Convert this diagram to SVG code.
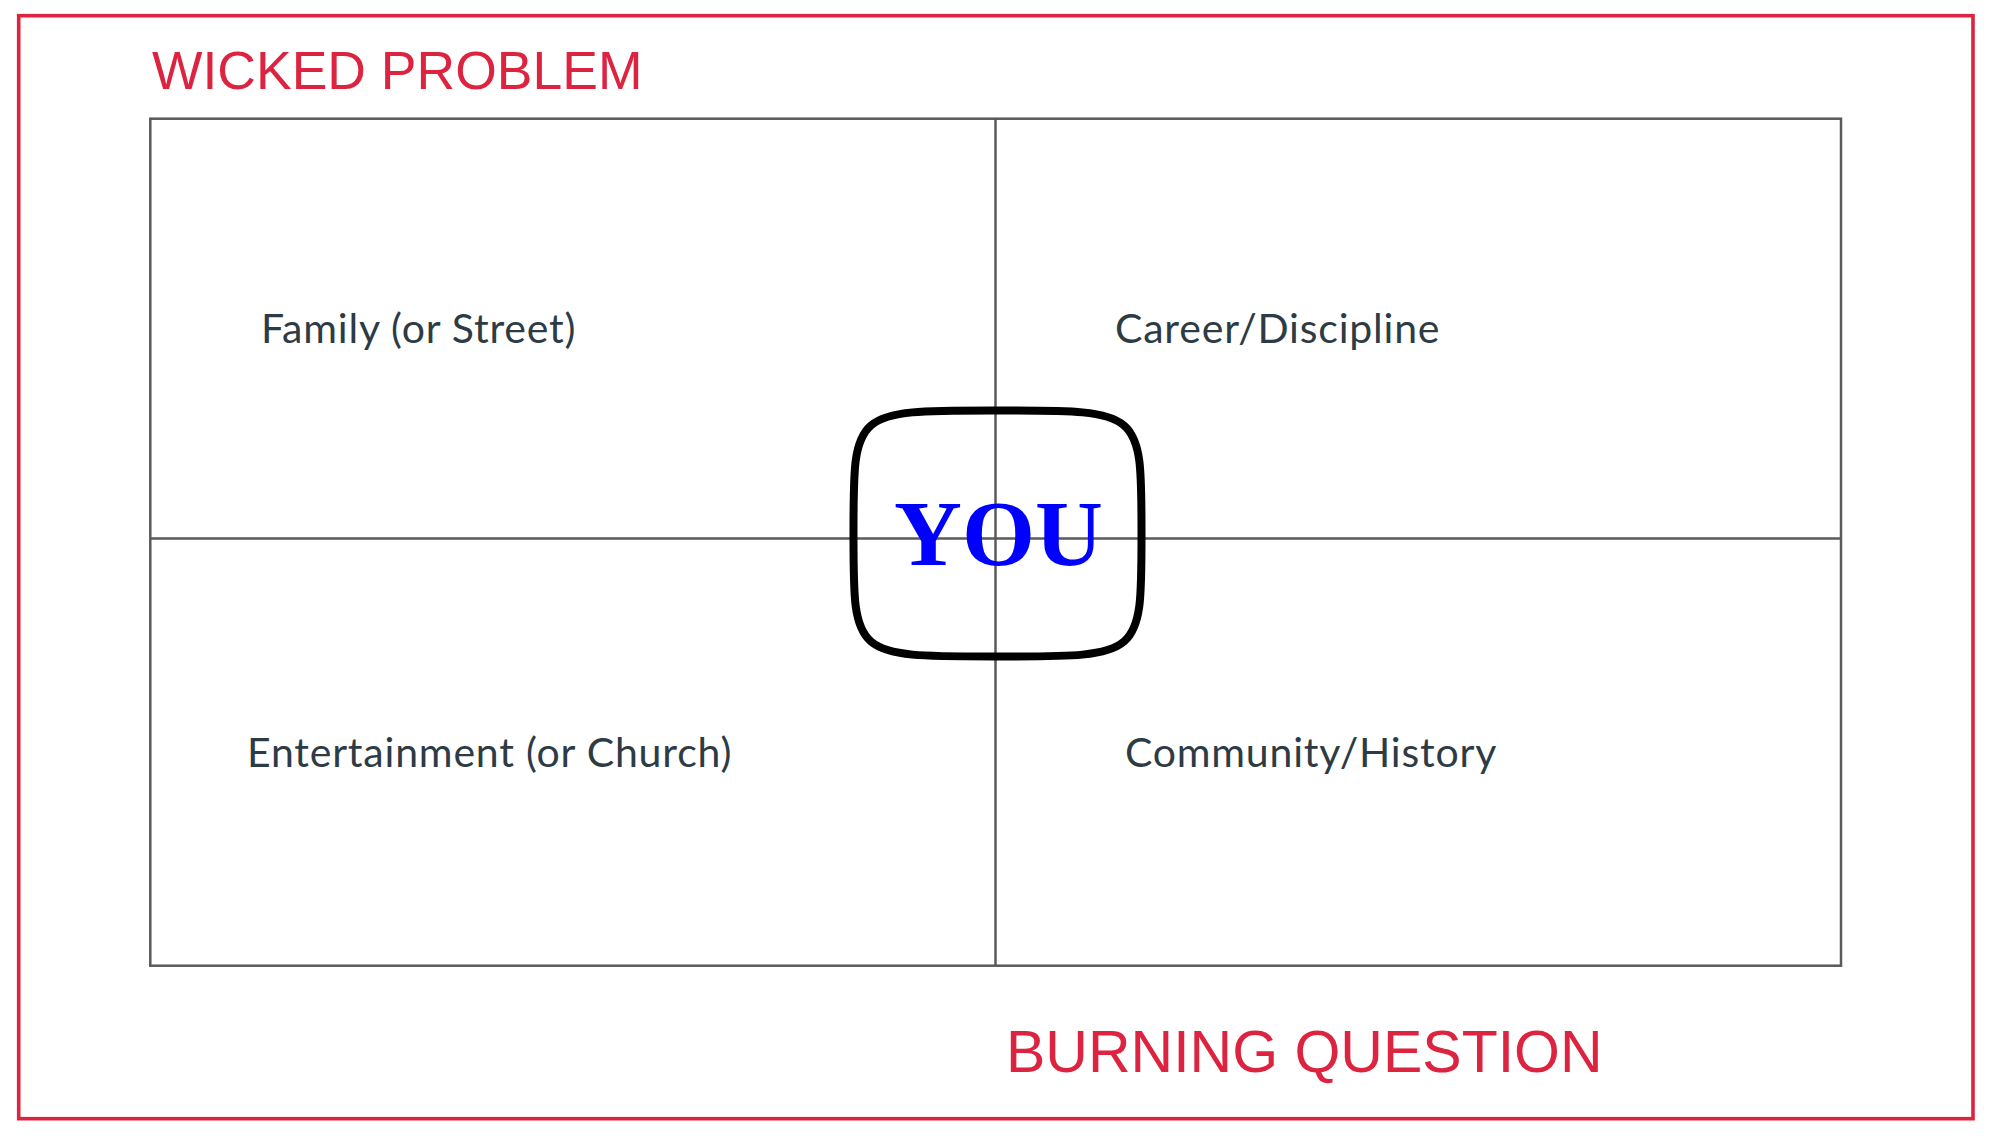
<svg xmlns="http://www.w3.org/2000/svg" width="1990" height="1138" viewBox="0 0 1990 1138">
  <style>
    .red { font-family: "Liberation Sans", Arial, sans-serif; fill: #dc2440; }
    .lbl { font-family: Lato, "Noto Sans", sans-serif; font-size: 41px; letter-spacing: 0.8px; fill: #2d3b45; }
    .grid { fill: none; stroke: #5a5a5a; stroke-width: 2.5; }
  </style>
  <rect width="1990" height="1138" fill="#ffffff"/>
  <g id="frame">
    <rect x="18.7" y="15.7" width="1954.3" height="1103" fill="none" stroke="#dc2440" stroke-width="3.6"/>
    <text class="red" x="152" y="88.5" font-size="53.5">WICKED PROBLEM</text>
    <text class="red" x="1006" y="1072" font-size="59">BURNING QUESTION</text>
  </g>
  <g id="quadrants">
    <rect class="grid" x="150.3" y="118.7" width="1690.7" height="847"/>
    <line class="grid" x1="995.5" y1="118.7" x2="995.5" y2="965.7"/>
    <line class="grid" x1="150.3" y1="538.5" x2="1841" y2="538.5"/>
  </g>
  <g id="family"><text class="lbl" x="261" y="343">Family (or Street)</text></g>
  <g id="career"><text class="lbl" x="1115" y="343">Career/Discipline</text></g>
  <g id="entertainment"><text class="lbl" x="247" y="767">Entertainment (or Church)</text></g>
  <g id="community"><text class="lbl" x="1125" y="767">Community/History</text></g>
  <g id="you">
    <path d="M997.5,410.5 C1142.9,410.5 1141.5,409.3 1141.5,533.5 C1141.5,657.7 1142.9,656.5 997.5,656.5 C852.1,656.5 853.5,657.7 853.5,533.5 C853.5,409.3 852.1,410.5 997.5,410.5 Z" fill="none" stroke="#000000" stroke-width="8"/>
    <text x="998.5" y="565" text-anchor="middle" font-family="'Liberation Serif', 'Times New Roman', serif" font-weight="bold" font-size="94" fill="#0000ff">YOU</text>
  </g>
</svg>
